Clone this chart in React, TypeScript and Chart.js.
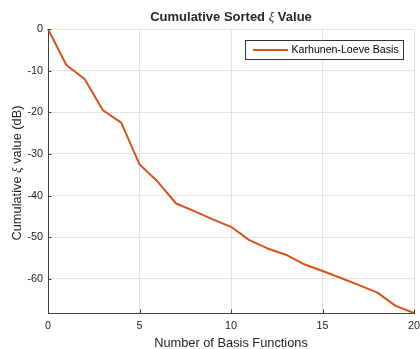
import React, { useEffect, useRef } from "react";
import { Chart, registerables } from "chart.js";

Chart.register(...registerables);

const basisCounts = [0, 1, 2, 3, 4, 5, 6, 7, 8, 9, 10, 11, 12, 13, 14, 15, 16, 17, 18, 19, 20];
const cumulativeXi = [0, -8.65, -12.0, -19.5, -22.5, -32.5, -36.7, -41.9, -43.75, -45.7, -47.5, -50.7, -52.7, -54.2, -56.5, -58.1, -59.8, -61.5, -63.3, -66.5, -68.2];
const xTicks = [0, 5, 10, 15, 20];
const yTicks = [-60, -50, -40, -30, -20, -10, 0];
const seriesLabel = "Karhunen-Loeve Basis";
const titleParts = ["Cumulative Sorted ", "ξ", " Value"];
const yLabelParts = ["Cumulative ", "ξ", " value (dB)"];
const xLabel = "Number of Basis Functions";

const LINE = "#D95319";
const AXIS = "#404040";
const GRID = "#e3e3e3";
const TEXT = "#262626";
const SANS = "'Liberation Sans', Arial, Helvetica, sans-serif";
const SERIF = "'Liberation Serif', 'DejaVu Serif', serif";

function drawMixed(ctx: CanvasRenderingContext2D, parts: string[], fonts: string[], cx: number, cy: number) {
  let total = 0;
  const widths = parts.map((p, i) => {
    ctx.font = fonts[i];
    const w = ctx.measureText(p).width;
    total += w;
    return w;
  });
  let x = cx - total / 2;
  ctx.textBaseline = "middle";
  ctx.textAlign = "left";
  parts.forEach((p, i) => {
    ctx.font = fonts[i];
    ctx.fillText(p, x, cy);
    x += widths[i];
  });
}

const overlayPlugin = {
  id: "overlay",
  afterDraw(chart: any) {
    const ctx: CanvasRenderingContext2D = chart.ctx;
    const { left, right, top, bottom } = chart.chartArea;
    const xs = chart.scales.x;
    const ys = chart.scales.y;
    ctx.save();
    // inside tick marks
    ctx.strokeStyle = AXIS;
    ctx.lineWidth = 1;
    ctx.beginPath();
    xTicks.forEach((v) => {
      const px = Math.round(xs.getPixelForValue(v)) + 0.5;
      ctx.moveTo(px, bottom);
      ctx.lineTo(px, bottom - 3.5);
    });
    yTicks.forEach((v) => {
      const py = Math.round(ys.getPixelForValue(v)) + 0.5;
      ctx.moveTo(left, py);
      ctx.lineTo(left + 3.5, py);
    });
    ctx.stroke();

    ctx.fillStyle = TEXT;
    // title
    const cx = (left + right) / 2;
    drawMixed(ctx, titleParts, [`bold 13px ${SANS}`, `italic 13px ${SERIF}`, `bold 13px ${SANS}`], cx, top - 11.5);
    // x label
    ctx.font = `12.8px ${SANS}`;
    ctx.textAlign = "center";
    ctx.textBaseline = "middle";
    ctx.fillText(xLabel, cx, bottom + 30);
    // y label
    ctx.save();
    ctx.translate(17.5, (top + bottom) / 2 + 2);
    ctx.rotate(-Math.PI / 2);
    drawMixed(ctx, yLabelParts, [`12.8px ${SANS}`, `italic 13px ${SERIF}`, `12.8px ${SANS}`], 0, 0);
    ctx.restore();

    // legend
    const lx = 245.5, ly = 40.5, lw = 158, lh = 19;
    ctx.fillStyle = "#ffffff";
    ctx.fillRect(lx, ly, lw, lh);
    ctx.strokeStyle = "#333333";
    ctx.lineWidth = 1;
    ctx.strokeRect(lx, ly, lw, lh);
    ctx.strokeStyle = LINE;
    ctx.lineWidth = 2;
    ctx.beginPath();
    ctx.moveTo(253, ly + lh / 2);
    ctx.lineTo(288, ly + lh / 2);
    ctx.stroke();
    ctx.fillStyle = "#000000";
    ctx.font = `10.6px ${SANS}`;
    ctx.textAlign = "left";
    ctx.textBaseline = "middle";
    ctx.fillText(seriesLabel, 291.5, ly + lh / 2 + 0.5);
    ctx.restore();
  },
};

export default function App() {
  const ref = useRef<HTMLCanvasElement | null>(null);
  useEffect(() => {
    document.body.style.margin = "0";
    const canvas = ref.current;
    if (!canvas) return;
    const chart = new Chart(canvas, {
      type: "line",
      data: {
        datasets: [
          {
            label: seriesLabel,
            data: basisCounts.map((x, i) => ({ x, y: cumulativeXi[i] })),
            borderColor: LINE,
            backgroundColor: LINE,
            borderWidth: 2,
            pointRadius: 0,
            tension: 0,
            borderJoinStyle: "round",
            clip: 4,
          },
        ],
      },
      options: {
        animation: false,
        responsive: false,
        devicePixelRatio: 1,
        layout: { padding: { left: 0, top: 29, right: 6, bottom: 0 } },
        plugins: { legend: { display: false }, tooltip: { enabled: false }, title: { display: false } },
        scales: {
          x: {
            type: "linear",
            min: 0,
            max: 20,
            afterBuildTicks: (s: any) => {
              s.ticks = xTicks.map((v) => ({ value: v }));
            },
            afterFit: (s: any) => {
              s.height = 36;
              s.paddingLeft = 0;
              s.paddingRight = 0;
            },
            grid: { color: GRID, drawTicks: false, lineWidth: 1 },
            border: { display: true, color: AXIS, width: 1 },
            ticks: { color: TEXT, font: { family: SANS, size: 10.8 }, padding: 7, maxRotation: 0 },
          },
          y: {
            type: "linear",
            min: -68.2,
            max: 0,
            afterBuildTicks: (s: any) => {
              s.ticks = yTicks.map((v) => ({ value: v }));
            },
            afterFit: (s: any) => {
              s.width = 48;
              s.paddingTop = 0;
              s.paddingBottom = 0;
            },
            grid: { color: GRID, drawTicks: false, lineWidth: 1 },
            border: { display: true, color: AXIS, width: 1 },
            ticks: { color: TEXT, font: { family: SANS, size: 10.8 }, padding: 5 },
          },
        },
      },
      plugins: [overlayPlugin],
    });
    return () => chart.destroy();
  }, []);
  return (
    <div style={{ width: 420, height: 349, overflow: "hidden", background: "#fff" }}>
      <canvas ref={ref} width={420} height={349} style={{ display: "block" }} />
    </div>
  );
}
